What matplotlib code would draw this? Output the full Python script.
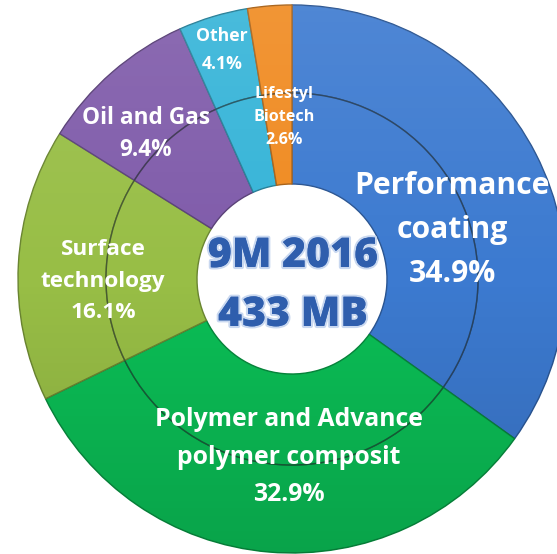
import matplotlib
matplotlib.use("Agg")
import matplotlib.pyplot as plt
import numpy as np
from matplotlib.patches import Wedge, Circle
import matplotlib.patheffects as pe
from matplotlib.colors import to_rgb

# ---- data ----
categories = ["Performance\ncoating", "Polymer and Advance\npolymer composit",
              "Surface\ntechnology", "Oil and Gas", "Other", "Lifestyl\nBiotech"]
shares = [34.9, 32.9, 16.1, 9.4, 4.1, 2.6]
center_title = ["9M 2016", "433 MB"]

# ---- style ----
colors = ["#3C7AD0", "#0BBE56", "#98BE46", "#7F5BAA", "#35B4D8", "#F08A20"]
label_px = [(452, 230), (289, 457), (103, 281), (146, 134), (222, 50), (284, 117)]
label_size = [21.7, 17.8, 16.2, 16.3, 12.7, 11.6]
label_ls = [1.6, 1.65, 1.68, 1.5, 1.65, 1.6]

W, H = 557, 554
CX, CY, R = 292, 279, 274
R_MID = 186 / R
R_HOLE = 95 / R

def to_data(px, py):
    return (px - CX) / R, (CY - py) / R

plt.rcParams["font.family"] = ["Open Sans", "DejaVu Sans"]

fig = plt.figure(figsize=(W / 100, H / 100), dpi=100)
ax = fig.add_axes([0, 0, 1, 1])

ring_kw = dict(startangle=90, counterclock=False, colors=colors)
outer, _ = ax.pie(shares, radius=1.0, wedgeprops=dict(width=1.0 - R_MID, linewidth=1.0), **ring_kw)
inner, _ = ax.pie(shares, radius=R_MID, wedgeprops=dict(width=R_MID - R_HOLE, linewidth=1.0), **ring_kw)
for ws in (outer, inner):
    for w, c in zip(ws, colors):
        rgb = np.array(to_rgb(c))
        w.set_edgecolor(tuple(rgb * 0.7))

# vertical shading over the donut
donut = Wedge((0, 0), 1.0, 0, 360, width=1.0 - R_HOLE, transform=ax.transData)
grad = np.zeros((256, 1, 4))
t = np.linspace(0, 1, 256)  # 0 = bottom, 1 = top (origin lower)
for i, v in enumerate(t):
    if v > 0.5:
        grad[i, 0] = [1, 1, 1, 0.10 * (v - 0.5) * 2]
    else:
        grad[i, 0] = [0, 0, 0, 0.14 * (0.5 - v) * 2]
im = ax.imshow(grad, extent=(-1, 1, -1, 1), origin="lower", aspect="auto", zorder=3)
im.set_clip_path(donut)

# ring separator
ax.add_patch(Circle((0, 0), R_MID, fill=False, edgecolor=(0.15, 0.2, 0.2), alpha=0.5, lw=1.0, zorder=4))

ax.set_xlim(-CX / R, (W - CX) / R)
ax.set_ylim((CY - H) / R, CY / R)
ax.set_aspect("auto")
ax.axis("off")

for cat, s, (px, py), fs, ls in zip(categories, shares, label_px, label_size, label_ls):
    x, y = to_data(px, py)
    ax.text(x, y, f"{cat}\n{s:.1f}%", ha="center", va="center", color="white",
            fontsize=fs, fontweight="bold", linespacing=ls, zorder=6)

tx, ty = to_data(293, 286)
ax.text(tx, ty, "\n".join(center_title), ha="center", va="center", color="#2F5EAD",
        fontsize=29.5, fontweight="heavy", linespacing=1.58, zorder=6,
        path_effects=[pe.withStroke(linewidth=3, foreground="#C9D8F0"), pe.Normal()])

fig.savefig("out.png", dpi=100)
